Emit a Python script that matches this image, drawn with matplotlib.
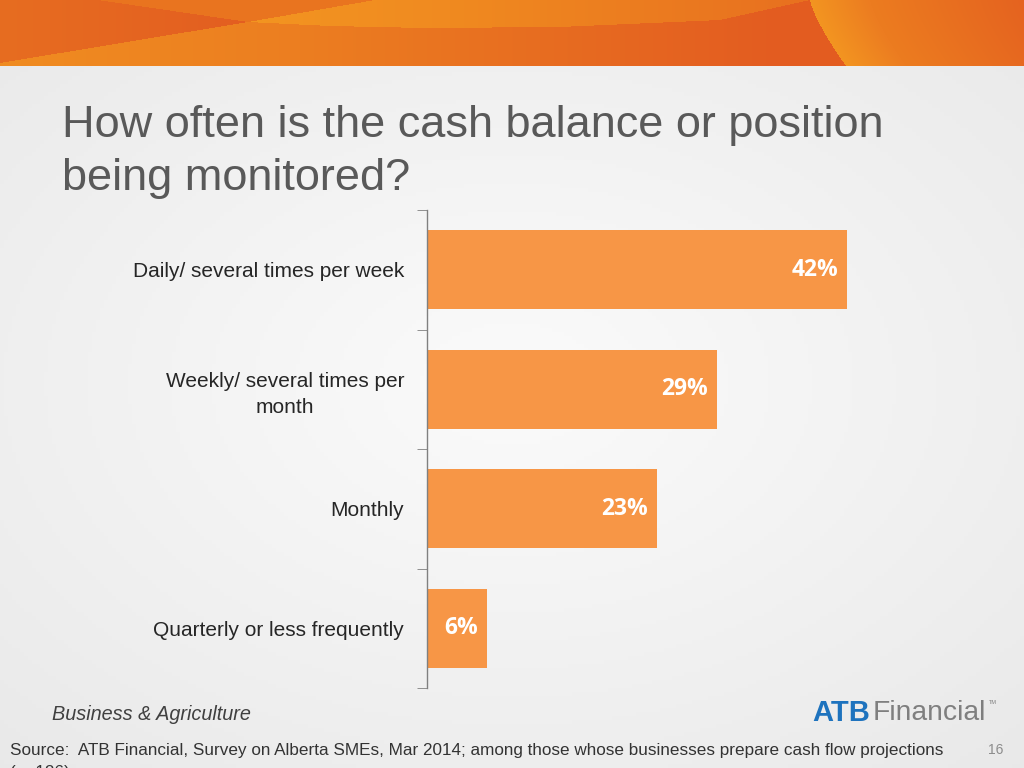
import numpy as np
import matplotlib.pyplot as plt
from matplotlib.ticker import FixedLocator, NullFormatter

categories = ["Daily/ several times per week", "Weekly/ several times per\nmonth",
              "Monthly", "Quarterly or less frequently"]
values = [42, 29, 23, 6]
value_labels = ["42%", "29%", "23%", "6%"]

title_lines = ["How often is the cash balance or position", "being monitored?"]
footer_left = "Business & Agriculture"
source_lines = ["Source:  ATB Financial, Survey on Alberta SMEs, Mar 2014; among those whose businesses "
                "prepare cash flow projections", "(n=126)"]

plt.rcParams['font.family'] = ['Liberation Sans', 'DejaVu Sans']

W, H = 1024, 768
fig = plt.figure(figsize=(10.24, 7.68), dpi=100)


def hexrgb(h):
    h = h.lstrip('#')
    return np.array([int(h[i:i + 2], 16) / 255 for i in (0, 2, 4)])


def ramp(xs, stops, cols):
    return np.stack([np.interp(xs, stops, [hexrgb(c)[k] for c in cols]) for k in range(3)], axis=-1)


# background: light grey, lighter towards the middle
bg = fig.add_axes([0, 0, 1, 1], zorder=-10)
gx, gy = np.meshgrid(np.linspace(-1, 1, 256), np.linspace(-1, 1, 192))
r = np.sqrt(gx ** 2 * 0.8 + gy ** 2)
shade = 0.985 - 0.075 * np.clip(r, 0, 1.4) / 1.4
bg.imshow(np.dstack([shade, shade, shade]), extent=[0, 1, 0, 1], aspect='auto', origin='lower')

# orange banner, built pixel by pixel
bh = 66
px, py = np.meshgrid(np.arange(W) + 0.5, np.arange(bh) + 0.5)
img = ramp(px, [0, 300, 780, 1024], ['#f08c20', '#ec7e20', '#e35c20', '#e35c20'])
# dark wedge above line (0,63)-(248,22), below line (98,0)-(248,22)
l1 = 63 - 41 * px / 248
l2 = 22 * (px - 98) / 150
wedge = (px < 248) & (py <= l1) & (py > l2)
img[wedge] = ramp(px, [0, 248], ['#e76d20', '#e35e20'])[wedge]
topleft = (px < 248) & (py <= l2)
img[topleft] = hexrgb('#e9741f')
# light lens in the top middle
cx = np.array([248, 330, 425, 560, 720, 810])
cy = np.array([22, 26, 28, 27, 20, 0])
curve = np.interp(px, cx, cy)
upper = 22 - 22 * (px - 248) / 127
lens = (px >= 248) & (px < 810) & (py < curve) & (py > upper)
img[lens] = ramp(px, [248, 450, 810], ['#f39520', '#f08a20', '#e8701f'])[lens]
top_mid = (px >= 248) & (px < 375) & (py <= upper)
img[top_mid] = hexrgb('#e9741f')
# right light region behind curve (810,0)-(846,66)
xr = 810 + 36 * (py / bh) ** 1.3
right = px > xr
img[right] = ramp(px - xr, [0, 60, 214], ['#f39520', '#ec7c20', '#e5631f'])[right]
bg.imshow(img, extent=[0, 1, 1 - bh / H, 1], aspect='auto', origin='upper', zorder=1)
bg.set_xlim(0, 1)
bg.set_ylim(0, 1)
bg.axis('off')

# title
for line, base in zip(title_lines, [137, 190]):
    fig.text(62 / W, 1 - base / H, line, fontsize=32.5, color='#595959', va='baseline', ha='left')

# bar chart
ax = fig.add_axes([427 / W, 1 - 688 / H, 500 / W, 478 / H])
ax.set_facecolor('none')
y = np.arange(len(categories))
ax.barh(y, values, height=0.66, color='#f79646')
ax.set_xlim(0, 50)
ax.set_ylim(len(categories) - 0.5, -0.5)
for s in ['top', 'right', 'bottom']:
    ax.spines[s].set_visible(False)
ax.spines['left'].set_color('#808080')
ax.spines['left'].set_linewidth(1)
ax.set_xticks([])
ax.set_yticks(y)
ax.set_yticklabels(categories, fontsize=15, color='#262626', ha='right',
                   multialignment='center', linespacing=1.45)
ax.tick_params(axis='y', which='major', length=0, pad=16.5)
ax.yaxis.set_minor_locator(FixedLocator(np.arange(len(categories) + 1) - 0.5))
ax.yaxis.set_minor_formatter(NullFormatter())
ax.tick_params(axis='y', which='minor', length=7, color='#808080', direction='out')
for yi, v, lab in zip(y, values, value_labels):
    ax.text(v - 0.9, yi, lab, ha='right', va='center', color='white', fontsize=16.5,
            fontweight='bold', family=['Open Sans', 'DejaVu Sans'])

# footer
fig.text(52 / W, 1 - 714 / H, footer_left, fontsize=14.3, style='italic', color='#404040',
         ha='left', va='center')
for line, cy_ in zip(source_lines, [750, 772]):
    fig.text(10 / W, 1 - cy_ / H, line, fontsize=12.3, color='#333333', ha='left', va='center')
fig.text(1003 / W, 1 - 750 / H, "16", fontsize=10, color='#8c8c8c', ha='right', va='center')

# logo
fig.text(812 / W, 1 - 713 / H, "ATB", fontsize=21, fontweight='bold', color='#1e73be',
         ha='left', va='center')
fig.text(873 / W, 1 - 713 / H, "Financial", fontsize=20.3, color='#7f7f7f',
         ha='left', va='center')
fig.text(989 / W, 1 - 703 / H, "TM", fontsize=4, color='#7f7f7f', ha='left', va='center')

fig.savefig("out.png", dpi=100)
